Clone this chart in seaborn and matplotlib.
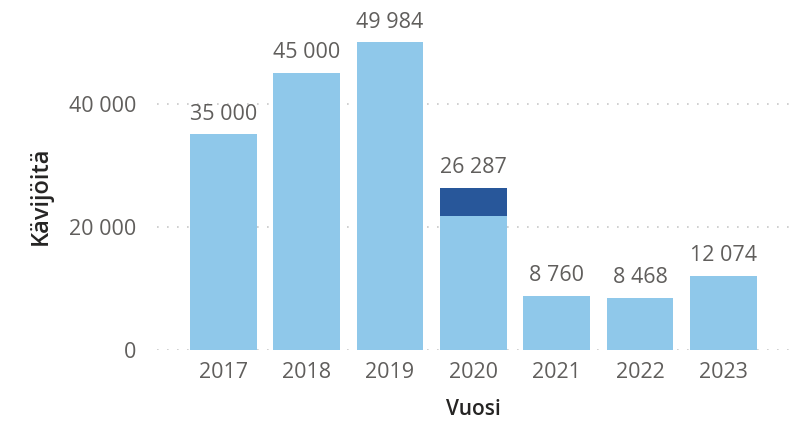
import seaborn as sns
import matplotlib.pyplot as plt
import matplotlib.ticker as mticker
import pandas as pd

sns.set_theme(style="white")
plt.rcParams['font.family'] = ['Open Sans', 'DejaVu Sans']

# data
years = ['2017', '2018', '2019', '2020', '2021', '2022', '2023']
base_visitors = [35000, 45000, 49984, 21700, 8760, 8468, 12074]
extra_visitors = [0, 0, 0, 4587, 0, 0, 0]

color_light = '#8FC8EA'
color_dark = '#28579A'
text_grey = '#605E5C'

df = pd.DataFrame({'Vuosi': years, 'base': base_visitors, 'extra': extra_visitors})
df['total'] = df['base'] + df['extra']

fig = plt.figure(figsize=(8.03, 4.22), dpi=100)
ax = fig.add_axes([0.196, 0.171, 0.788, 0.729])

# totals first (dark part shows where it exceeds the base)
sns.barplot(data=df, x='Vuosi', y='total', color=color_dark, width=0.8,
            saturation=1, linewidth=0, ax=ax)
sns.barplot(data=df, x='Vuosi', y='base', color=color_light, width=0.8,
            saturation=1, linewidth=0, ax=ax)

labels = [f'{int(v):,}'.replace(',', ' ') for v in df['total']]
ax.bar_label(ax.containers[0], labels=labels, padding=7, fontsize=15.5,
             color=text_grey, clip_on=False)

ax.set_xlim(-0.79, 6.8)
ax.set_ylim(0, 50000)
ax.set_yticks([0, 20000, 40000])
ax.yaxis.set_major_formatter(mticker.FuncFormatter(lambda x, _: f'{int(x):,}'.replace(',', ' ')))
ax.grid(axis='y', color='#C8C8C8', linestyle=(0, (1, 5)), linewidth=1.2)
ax.set_axisbelow(True)
for s in ax.spines.values():
    s.set_visible(False)

ax.tick_params(axis='y', length=0, pad=15, labelsize=15.5, labelcolor=text_grey)
ax.tick_params(axis='x', length=0, pad=9, labelsize=15.5, labelcolor=text_grey)
ax.set_xlabel('Vuosi', fontsize=15, fontweight='semibold', color='#252423', labelpad=11)
ax.set_ylabel('Kävijöitä', fontsize=17, fontweight='semibold', color='#252423', labelpad=12)

plt.savefig('out.png', dpi=100)
